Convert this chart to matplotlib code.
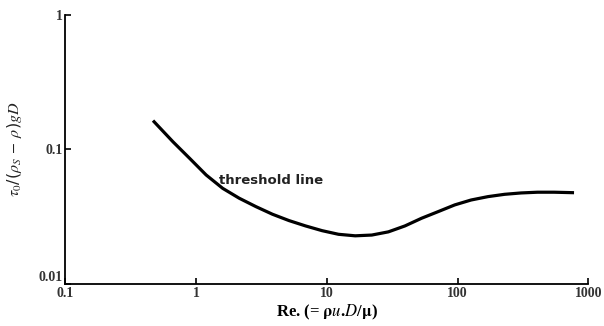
import matplotlib.pyplot as plt

plt.rcParams['mathtext.fontset'] = 'stix'

# threshold line
re_vals = [0.469, 0.667, 0.893, 1.196, 1.60, 2.14, 2.87, 3.84, 5.14, 6.89, 9.21,
           12.3, 16.5, 22.1, 29.6, 39.6, 53.1, 71.1, 95.2, 127.0, 171.0, 229.0,
           306.0, 409.0, 548.0, 778.0]
tau_vals = [0.164, 0.114, 0.0860, 0.0646, 0.0514, 0.0434, 0.0376, 0.0330, 0.0296,
            0.0270, 0.0249, 0.0234, 0.0228, 0.0231, 0.0244, 0.0270, 0.0308,
            0.0345, 0.0387, 0.0421, 0.0446, 0.0464, 0.0475, 0.0481, 0.0481, 0.0477]

x_ticks = [0.1, 1, 10, 100, 1000]
x_labels = ['0.1', '1', '10', '100', '1000']
y_ticks = [0.01, 0.1, 1]
y_labels = ['0.01', '0.1', '1']

fig = plt.figure(figsize=(6.04, 3.26), dpi=100)
ax = fig.add_axes([0.108, 0.129, 0.866, 0.825])

ax.plot(re_vals, tau_vals, color='black', lw=2.3, solid_capstyle='butt',
        solid_joinstyle='round')
ax.set_xscale('log')
ax.set_yscale('log')
ax.set_xlim(0.1, 1000)
ax.set_ylim(0.01, 1)

ax.spines['top'].set_visible(False)
ax.spines['right'].set_visible(False)
ax.spines['left'].set_linewidth(1.3)
ax.spines['bottom'].set_linewidth(1.3)

ax.set_xticks(x_ticks)
ax.set_xticklabels(x_labels)
ax.set_yticks(y_ticks)
ax.set_yticklabels(y_labels)
ax.minorticks_off()
ax.tick_params(direction='in', length=4, width=1.2, pad=2)
for lab in ax.get_xticklabels() + ax.get_yticklabels():
    lab.set_fontfamily('Liberation Serif')
    lab.set_fontweight('bold')
    lab.set_fontsize(10)
    lab.set_color('#333333')
# the bottom y label sits a little above the corner, as in the original
ax.get_yticklabels()[0].set_verticalalignment('bottom')

ax.set_xlabel(r'Re. (= $\mathbf{\rho}\mathit{u}$.$\mathit{D}$/$\mathbf{\mu}$)',
              fontfamily='Liberation Serif', fontweight='bold', fontsize=12, labelpad=2)
ax.set_ylabel(r'$\tau_0$/($\rho_S$ $-$ $\rho$)$\mathit{gD}$',
              fontfamily='DejaVu Sans', fontsize=11.5, labelpad=10, color='#222222')

ax.text(1.51, 0.0583, 'threshold line', fontfamily='DejaVu Sans', fontweight='bold',
        fontsize=9.5, ha='left', va='center', color='#222222')

fig.savefig('out.png', dpi=100)
